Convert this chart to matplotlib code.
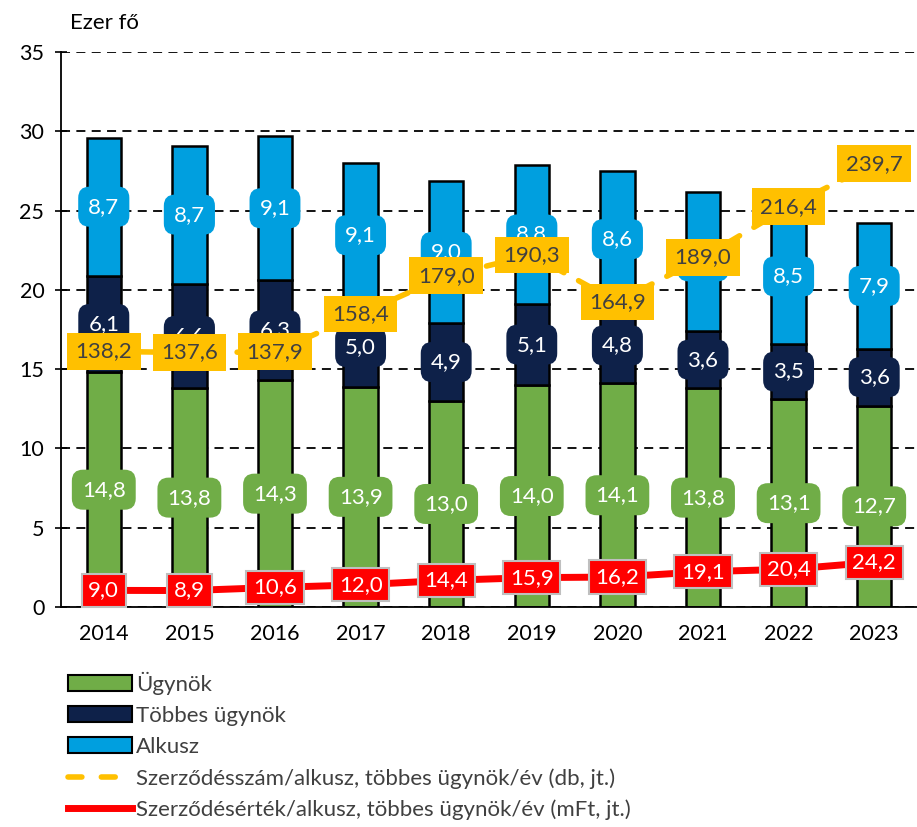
import matplotlib
matplotlib.use("Agg")
import matplotlib.pyplot as plt
from matplotlib.patches import Patch
from matplotlib.lines import Line2D
import numpy as np

plt.rcParams['font.family'] = ['Lato', 'DejaVu Sans']

years = ["2014", "2015", "2016", "2017", "2018", "2019", "2020", "2021", "2022", "2023"]
ugynok = [14.8, 13.8, 14.3, 13.9, 13.0, 14.0, 14.1, 13.8, 13.1, 12.7]
tobbes = [6.1, 6.6, 6.3, 5.0, 4.9, 5.1, 4.8, 3.6, 3.5, 3.6]
alkusz = [8.7, 8.7, 9.1, 9.1, 9.0, 8.8, 8.6, 8.8, 8.5, 7.9]
szerzodesszam = [138.2, 137.6, 137.9, 158.4, 179.0, 190.3, 164.9, 189.0, 216.4, 239.7]
szerzodesertek = [9.0, 8.9, 10.6, 12.0, 14.4, 15.9, 16.2, 19.1, 20.4, 24.2]

GREEN = "#70AD47"
NAVY = "#0E2149"
BLUE = "#009FDF"
YELLOW = "#FFC000"
RED = "#FF0000"


def fmt(v):
    return f"{v:.1f}".replace(".", ",")


fig = plt.figure(figsize=(9.17, 8.27), dpi=100)
ax = fig.add_axes([0.0665, 0.266, 0.9335, 0.671])

x = np.arange(len(years))
w = 0.4
bottoms = np.zeros(len(years))
for vals, col in [(ugynok, GREEN), (tobbes, NAVY), (alkusz, BLUE)]:
    ax.bar(x, vals, w, bottom=bottoms, color=col, edgecolor="black",
           linewidth=1.8, zorder=2)
    for xi, b, v in zip(x, bottoms, vals):
        ax.text(xi, b + v / 2, fmt(v), ha="center", va="center", color="white",
                fontsize=16, zorder=4,
                bbox=dict(boxstyle="round,pad=0.45,rounding_size=0.5",
                          fc=col, ec="none"))
    bottoms = bottoms + np.array(vals)

ax.set_xlim(-0.5, len(years) - 0.5)
ax.set_ylim(0, 35)
ax.set_yticks(range(0, 36, 5))
ax.set_xticks(x)
ax.set_xticklabels(years)
ax.tick_params(axis="y", direction="inout", length=8, width=1.2, labelsize=15.5, pad=8)
ax.tick_params(axis="x", length=0, labelsize=15.5, pad=12)
ax.yaxis.grid(True, linestyle=(0, (5, 3.5)), color="black", linewidth=1.3, zorder=0)
ax.set_axisbelow(True)
for s in ["top", "right"]:
    ax.spines[s].set_visible(False)
ax.spines["left"].set_linewidth(1.3)
ax.spines["bottom"].set_linewidth(1.3)
ax.text(0.01, 1.035, "Ezer fő", transform=ax.transAxes, fontsize=16,
        ha="left", va="bottom")

# secondary (hidden) scale for the two lines
ax2 = ax.twinx()
ax2.set_ylim(0, 300)
ax2.set_axis_off()
ax2.plot(x, szerzodesszam, color=YELLOW, linewidth=4, linestyle=(0, (3, 3)),
         dash_capstyle="round", zorder=3)
ax2.plot(x, szerzodesertek, color=RED, linewidth=5, zorder=3)
for xi, v in zip(x, szerzodesszam):
    ax2.text(xi, v, fmt(v), ha="center", va="center", color="#404040",
             fontsize=16, zorder=5,
             bbox=dict(boxstyle="square,pad=0.38", fc=YELLOW, ec="none"))
for xi, v in zip(x, szerzodesertek):
    ax2.text(xi, v, fmt(v), ha="center", va="center", color="white",
             fontsize=16, zorder=5,
             bbox=dict(boxstyle="square,pad=0.3", fc=RED, ec="#BFBFBF", lw=1.5))

handles = [
    Patch(fc=GREEN, ec="black", lw=1.5, label="Ügynök"),
    Patch(fc=NAVY, ec="black", lw=1.5, label="Többes ügynök"),
    Patch(fc=BLUE, ec="black", lw=1.5, label="Alkusz"),
    Line2D([], [], color=YELLOW, lw=4, linestyle=(0, (2.5, 3.5)), dash_capstyle="round",
           label="Szerződésszám/alkusz, többes ügynök/év (db, jt.)"),
    Line2D([], [], color=RED, lw=5,
           label="Szerződésérték/alkusz, többes ügynök/év (mFt, jt.)"),
]
leg = fig.legend(handles=handles, loc="upper left", bbox_to_anchor=(0.074, 0.188),
                 frameon=False, fontsize=16, handlelength=2.9, handleheight=0.72,
                 labelspacing=0.5, handletextpad=0.15, borderaxespad=0,
                 borderpad=0)
for t in leg.get_texts():
    t.set_color("#404040")

fig.savefig("out.png", dpi=100)
